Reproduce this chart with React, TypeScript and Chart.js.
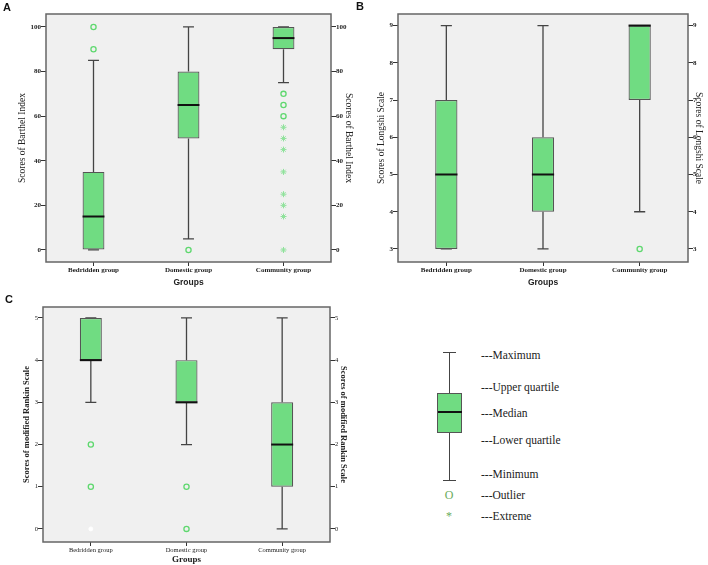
import React, { useEffect, useRef } from "react";
import { Chart, registerables } from "chart.js";

Chart.register(...registerables);

const GROUPS = ["Bedridden group", "Domestic group", "Community group"];

// Panel A – Barthel Index
const A_MIN = [0, 5, 75];
const A_Q1 = [0, 50, 90];
const A_MEDIAN = [15, 65, 95];
const A_Q3 = [35, 80, 100];
const A_MAX = [85, 100, 100];
const A_OUTLIERS = [[90, 100], [0], [70, 65, 60]];
const A_EXTREMES = [[], [], [55, 50, 45, 35, 25, 20, 15, 0]];
const A_FAINT: number[][] = [[], [], []];
const A_TICKS = [0, 20, 40, 60, 80, 100];

// Panel B – Longshi Scale
const B_MIN = [3, 3, 4];
const B_Q1 = [3, 4, 7];
const B_MEDIAN = [5, 5, 9];
const B_Q3 = [7, 6, 9];
const B_MAX = [9, 9, 9];
const B_OUTLIERS = [[], [], [3]];
const B_EXTREMES: number[][] = [[], [], []];
const B_FAINT: number[][] = [[], [], []];
const B_TICKS = [3, 4, 5, 6, 7, 8, 9];

// Panel C – modified Rankin Scale
const C_MIN = [3, 2, 0];
const C_Q1 = [4, 3, 1];
const C_MEDIAN = [4, 3, 2];
const C_Q3 = [5, 4, 3];
const C_MAX = [5, 5, 5];
const C_OUTLIERS = [[2, 1], [1, 0], []];
const C_EXTREMES: number[][] = [[], [], []];
const C_FAINT = [[0], [], []];
const C_TICKS = [0, 1, 2, 3, 4, 5];

const LEGEND_LABELS = [
  "---Maximum",
  "---Upper quartile",
  "---Median",
  "---Lower quartile",
  "---Minimum",
  "---Outlier",
  "---Extreme",
];

const BOX_FILL = "rgb(112,220,130)";
const PLOT_BG = "#f0f0f0";
const FRAME = "#666";
const WHISKER = "#444";
const OUT_COLOR = "#5fd86f";
const EXT_COLOR = "#8fe29b";

interface Stats {
  min: number[];
  q1: number[];
  med: number[];
  q3: number[];
  max: number[];
  out: number[][];
  ext: number[][];
  faint: number[][];
  ticks: number[];
}

interface PanelSpec {
  left: number;
  top: number;
  w: number;
  h: number;
  plotLeft: number;
  plotRight: number;
  plotTop: number;
  plotBottom: number;
  yMin: number;
  yMax: number;
  yTitle: string;
  yTitleFont: any;
  leftTitlePad: number;
  rightTitlePad: number;
  tickFont: any;
  xTitleFont: any;
  xTitlePad: number;
  xTickPad: number;
  stats: Stats;
}

const toPoints = (arr: number[][]) =>
  arr.flatMap((vals, g) => vals.map((v) => ({ x: GROUPS[g], y: v })));

function makeBoxPlugin(s: Stats) {
  return {
    id: "boxwhisk",
    beforeDraw(chart: any) {
      const { ctx, chartArea } = chart;
      ctx.save();
      ctx.fillStyle = PLOT_BG;
      ctx.fillRect(chartArea.left, chartArea.top, chartArea.right - chartArea.left, chartArea.bottom - chartArea.top);
      ctx.restore();
    },
    beforeDatasetsDraw(chart: any) {
      const { ctx } = chart;
      const y = chart.scales.y;
      const meta = chart.getDatasetMeta(0);
      ctx.save();
      ctx.strokeStyle = WHISKER;
      ctx.lineWidth = 1.3;
      meta.data.forEach((bar: any, i: number) => {
        const x = bar.x;
        const cap = bar.width / 2;
        const yMin = y.getPixelForValue(s.min[i]);
        const yQ1 = y.getPixelForValue(s.q1[i]);
        const yQ3 = y.getPixelForValue(s.q3[i]);
        const yMax = y.getPixelForValue(s.max[i]);
        ctx.beginPath();
        ctx.moveTo(x, yMax);
        ctx.lineTo(x, yQ3);
        ctx.moveTo(x, yQ1);
        ctx.lineTo(x, yMin);
        ctx.moveTo(x - cap / 2, yMax);
        ctx.lineTo(x + cap / 2, yMax);
        ctx.moveTo(x - cap / 2, yMin);
        ctx.lineTo(x + cap / 2, yMin);
        ctx.stroke();
      });
      ctx.restore();
    },
    afterDatasetsDraw(chart: any) {
      const { ctx } = chart;
      const y = chart.scales.y;
      const meta = chart.getDatasetMeta(0);
      ctx.save();
      ctx.strokeStyle = "#111";
      ctx.lineWidth = 2;
      meta.data.forEach((bar: any, i: number) => {
        const ym = y.getPixelForValue(s.med[i]);
        ctx.beginPath();
        ctx.moveTo(bar.x - bar.width / 2, ym);
        ctx.lineTo(bar.x + bar.width / 2, ym);
        ctx.stroke();
      });
      ctx.restore();
    },
    afterDraw(chart: any) {
      const { ctx, chartArea } = chart;
      ctx.save();
      ctx.strokeStyle = FRAME;
      ctx.lineWidth = 1.5;
      ctx.strokeRect(chartArea.left, chartArea.top, chartArea.right - chartArea.left, chartArea.bottom - chartArea.top);
      ctx.restore();
    },
  };
}

function BoxPanel({ p }: { p: PanelSpec }) {
  const ref = useRef<HTMLCanvasElement>(null);
  useEffect(() => {
    const s = p.stats;
    const tickGrid = {
      display: true,
      drawOnChartArea: false,
      drawTicks: true,
      tickLength: 5,
      tickColor: "#333",
      tickWidth: 1,
    };
    const yScale = (position: "left" | "right") => ({
      type: "linear" as const,
      position,
      min: p.yMin,
      max: p.yMax,
      afterBuildTicks: (sc: any) => {
        sc.ticks = s.ticks.map((v) => ({ value: v }));
      },
      afterFit: (sc: any) => {
        sc.width = position === "left" ? p.plotLeft : p.w - p.plotRight;
      },
      grid: tickGrid,
      border: { display: false },
      ticks: { font: p.tickFont, color: "#222", padding: 0, autoSkip: false },
      title: {
        display: true,
        text: p.yTitle,
        font: p.yTitleFont,
        color: "#222",
        padding: { top: position === "left" ? p.leftTitlePad : p.rightTitlePad, bottom: 0 },
      },
    });
    const chart = new Chart(ref.current!, {
      type: "bar",
      data: {
        labels: GROUPS,
        datasets: [
          {
            type: "bar",
            data: GROUPS.map((_, i) => [s.q1[i], s.q3[i]]) as any,
            backgroundColor: BOX_FILL,
            borderColor: "#555",
            borderWidth: 1.2,
            borderSkipped: false,
            barPercentage: 0.23,
            categoryPercentage: 1,
          },
          {
            type: "line",
            data: toPoints(s.out) as any,
            showLine: false,
            pointStyle: "circle",
            pointRadius: 2.6,
            pointBorderWidth: 1.3,
            pointBorderColor: OUT_COLOR,
            pointBackgroundColor: "rgba(0,0,0,0)",
          },
          {
            type: "line",
            data: toPoints(s.ext) as any,
            showLine: false,
            pointStyle: "star",
            pointRadius: 3,
            pointBorderWidth: 1,
            pointBorderColor: EXT_COLOR,
            pointBackgroundColor: EXT_COLOR,
          },
          {
            type: "line",
            data: toPoints(s.faint) as any,
            showLine: false,
            pointStyle: "circle",
            pointRadius: 2,
            pointBorderWidth: 1,
            pointBorderColor: "#ffffff",
            pointBackgroundColor: "#ffffff",
          },
        ],
      },
      options: {
        responsive: false,
        animation: false,
        devicePixelRatio: 1,
        layout: { padding: { top: p.plotTop, left: 0, right: 0, bottom: 0 } },
        plugins: { legend: { display: false }, tooltip: { enabled: false } },
        scales: {
          x: {
            type: "category",
            offset: true,
            grid: { ...tickGrid, offset: false, tickLength: 4 },
            border: { display: false },
            afterFit: (sc: any) => {
              sc.height = p.h - p.plotBottom;
            },
            ticks: { font: p.tickFont, color: "#222", padding: p.xTickPad, maxRotation: 0, autoSkip: false },
            title: {
              display: true,
              text: "Groups",
              font: p.xTitleFont,
              color: "#222",
              padding: { top: 0, bottom: p.xTitlePad },
            },
          },
          y: yScale("left"),
          y2: yScale("right"),
        },
      } as any,
      plugins: [makeBoxPlugin(s)],
    });
    return () => chart.destroy();
  }, []);
  return (
    <div style={{ position: "absolute", left: p.left, top: p.top, width: p.w, height: p.h }}>
      <canvas ref={ref} width={p.w} height={p.h} style={{ width: p.w, height: p.h, display: "block" }} />
    </div>
  );
}

const serifBold7 = { family: "Liberation Serif", size: 7, weight: "bold" };
const serif65 = { family: "Liberation Serif", size: 6.5, weight: "normal" };
const sansBoldTitle = { family: "Liberation Sans", size: 8.5, weight: "bold" };

const PANEL_A: PanelSpec = {
  left: 0, top: 0, w: 357, h: 292,
  plotLeft: 46, plotRight: 331, plotTop: 14, plotBottom: 262,
  yMin: -5.4, yMax: 105.8,
  yTitle: "Scores of Barthel Index",
  yTitleFont: { family: "Liberation Serif", size: 9.5, weight: "normal" },
  leftTitlePad: 17, rightTitlePad: 3,
  tickFont: serifBold7,
  xTitleFont: sansBoldTitle, xTitlePad: 4, xTickPad: 0,
  stats: { min: A_MIN, q1: A_Q1, med: A_MEDIAN, q3: A_Q3, max: A_MAX, out: A_OUTLIERS, ext: A_EXTREMES, faint: A_FAINT, ticks: A_TICKS },
};

const PANEL_B: PanelSpec = {
  left: 355, top: 0, w: 353, h: 292,
  plotLeft: 43, plotRight: 333, plotTop: 14, plotBottom: 262,
  yMin: 2.65, yMax: 9.31,
  yTitle: "Scores of Longshi Scale",
  yTitleFont: { family: "Liberation Serif", size: 9.5, weight: "normal" },
  leftTitlePad: 21, rightTitlePad: 4,
  tickFont: serifBold7,
  xTitleFont: sansBoldTitle, xTitlePad: 4, xTickPad: 0,
  stats: { min: B_MIN, q1: B_Q1, med: B_MEDIAN, q3: B_Q3, max: B_MAX, out: B_OUTLIERS, ext: B_EXTREMES, faint: B_FAINT, ticks: B_TICKS },
};

const PANEL_C: PanelSpec = {
  left: 0, top: 292, w: 357, h: 273,
  plotLeft: 43, plotRight: 330, plotTop: 15, plotBottom: 250,
  yMin: -0.31, yMax: 5.26,
  yTitle: "Scores of modified Rankin Scale",
  yTitleFont: { family: "Liberation Serif", size: 8.5, weight: "bold" },
  leftTitlePad: 22, rightTitlePad: 9,
  tickFont: serif65,
  xTitleFont: { family: "Liberation Serif", size: 9, weight: "bold" }, xTitlePad: 0, xTickPad: 0,
  stats: { min: C_MIN, q1: C_Q1, med: C_MEDIAN, q3: C_Q3, max: C_MAX, out: C_OUTLIERS, ext: C_EXTREMES, faint: C_FAINT, ticks: C_TICKS },
};

const LEGEND_Y = [355, 387, 413, 440, 474, 495, 516];

function PanelLetter({ text, x, y }: { text: string; x: number; y: number }) {
  return (
    <div style={{ position: "absolute", left: x, top: y, font: "bold 11px 'Liberation Sans'", lineHeight: "11px", color: "#111" }}>
      {text}
    </div>
  );
}

function KeyPanel() {
  const cx = 449;
  const line = (l: number, t: number, w: number, h: number, bg: string) => (
    <div style={{ position: "absolute", left: l, top: t, width: w, height: h, background: bg }} />
  );
  return (
    <div>
      {line(cx - 0.5, 352, 1.3, 41, WHISKER)}
      {line(cx - 0.5, 433, 1.3, 47, WHISKER)}
      {line(443, 351.5, 13, 1.3, WHISKER)}
      {line(443, 479.5, 13, 1.3, WHISKER)}
      <div style={{ position: "absolute", left: 437, top: 393, width: 25, height: 40, boxSizing: "border-box", background: BOX_FILL, border: "1.2px solid #555" }} />
      {line(437.5, 411, 24, 2, "#111")}
      <div style={{ position: "absolute", left: cx - 10, width: 20, top: 495, transform: "translateY(-50%)", textAlign: "center", font: "12px 'Liberation Serif'", lineHeight: "12px", color: "#6aab5c" }}>O</div>
      <div style={{ position: "absolute", left: cx - 10, width: 20, top: 516, transform: "translateY(-50%)", textAlign: "center", font: "12px 'Liberation Serif'", lineHeight: "12px", color: "#6aab5c" }}>*</div>
      {LEGEND_LABELS.map((t, i) => (
        <div key={t} style={{ position: "absolute", left: 481, top: LEGEND_Y[i], transform: "translateY(-50%)", font: "11.5px 'Liberation Serif'", lineHeight: "12px", color: "#222", whiteSpace: "nowrap" }}>
          {t}
        </div>
      ))}
    </div>
  );
}

export default function App() {
  return (
    <div style={{ position: "absolute", left: 0, top: 0, width: 708, height: 565, background: "#fff", overflow: "hidden" }}>
      <BoxPanel p={PANEL_A} />
      <BoxPanel p={PANEL_B} />
      <BoxPanel p={PANEL_C} />
      <KeyPanel />
      <PanelLetter text="A" x={3} y={2} />
      <PanelLetter text="B" x={356} y={1} />
      <PanelLetter text="C" x={5} y={294} />
    </div>
  );
}
